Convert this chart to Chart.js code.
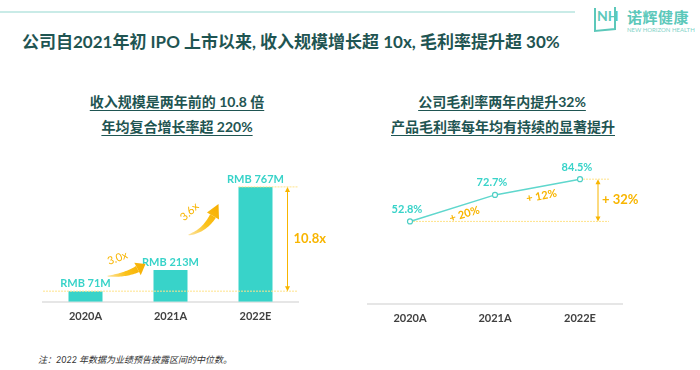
<!DOCTYPE html>
<html>
<head>
<meta charset="utf-8">
<script src="https://cdn.jsdelivr.net/npm/chart.js@4.4.0/dist/chart.umd.min.js"></script>
<style>
  body { margin: 0; background: #fff; font-family: Lato, "Noto Sans CJK SC", sans-serif; }
  #page { position: relative; width: 700px; height: 370px; overflow: hidden; }
  .topline { position: absolute; left: 0; top: 11px; width: 575px; height: 2px; background: #c9ebe7; }
  .title { position: absolute; left: 22px; top: 28px; font-size: 17px; font-weight: bold; color: #1f5552; white-space: nowrap; }
  .sub { position: absolute; font-size: 14px; font-weight: bold; color: #1f5552; white-space: nowrap; text-decoration: underline; text-underline-offset: 3px; transform: translateX(-50%); }
  .note { position: absolute; left: 38px; top: 353px; font-size: 9px; font-style: italic; color: #333; white-space: nowrap; }
  .logo-cn { position: absolute; left: 627px; top: 6px; font-size: 15px; font-weight: bold; color: #5cc8ba; letter-spacing: 0.5px; }
  .logo-en { position: absolute; left: 627px; top: 26px; font-size: 6px; color: #7fd3c8; white-space: nowrap; }
  canvas { position: absolute; }
</style>
</head>
<body>
<div id="page">
  <div class="topline"></div>
  <svg style="position:absolute;left:593px;top:4px" width="26" height="30" viewBox="0 0 26 30">
    <path d="M2 4 L2 27 L22 25 L22 3" fill="none" stroke="#5cc8ba" stroke-width="2"/>
    <text x="4" y="17" font-family="Lato, sans-serif" font-weight="bold" font-size="14" fill="#5cc8ba">NH</text>
  </svg>
  <div class="logo-cn">诺辉健康</div>
  <div class="logo-en">NEW HORIZON HEALTH</div>

  <div class="title">公司自2021年初 IPO 上市以来, 收入规模增长超 10x, 毛利率提升超 30%</div>

  <div class="sub" style="left:177px;top:91px">收入规模是两年前的 10.8 倍</div>
  <div class="sub" style="left:177px;top:116px">年均复合增长率超 220%</div>
  <div class="sub" style="left:502px;top:91px">公司毛利率两年内提升32%</div>
  <div class="sub" style="left:503px;top:116px">产品毛利率每年均有持续的显著提升</div>

  <canvas id="revenueChart" width="350" height="200" style="left:0;top:140px"></canvas>
  <canvas id="marginChart" width="350" height="200" style="left:350px;top:140px"></canvas>

  <div class="note">注：2022 年数据为业绩预告披露区间的中位数。</div>
</div>

<script>
var years = ['2020A', '2021A', '2022E'];
var revenue = [71, 213, 767];          // RMB M
var revenueLabels = ['RMB 71M', 'RMB 213M', 'RMB 767M'];
var growthLabels = ['3.0x', '3.6x'];
var totalGrowth = '10.8x';

var grossMargin = [52.8, 72.7, 84.5];  // %
var marginLabels = ['52.8%', '72.7%', '84.5%'];
var marginSteps = ['+ 20%', '+ 12%'];
var marginTotal = '+ 32%';

var FONT = 'Lato, "Noto Sans CJK SC", sans-serif';
var TEAL = '#38d3c9';
var GOLD = '#f8b500';
var PALE = '#ffe38a';

function dashLine(ctx, x1, y1, x2, y2) {
    ctx.save();
    ctx.strokeStyle = PALE;
    ctx.lineWidth = 1;
    ctx.setLineDash([2, 1]);
    ctx.beginPath();
    ctx.moveTo(x1, y1);
    ctx.lineTo(x2, y2);
    ctx.stroke();
    ctx.restore();
}

function doubleArrow(ctx, x, y1, y2) {
    ctx.save();
    ctx.strokeStyle = GOLD;
    ctx.fillStyle = GOLD;
    ctx.lineWidth = 1;
    ctx.beginPath();
    ctx.moveTo(x, y1 + 3);
    ctx.lineTo(x, y2 - 3);
    ctx.stroke();
    ctx.beginPath();
    ctx.moveTo(x, y1); ctx.lineTo(x - 2.5, y1 + 5); ctx.lineTo(x + 2.5, y1 + 5); ctx.closePath();
    ctx.fill();
    ctx.beginPath();
    ctx.moveTo(x, y2); ctx.lineTo(x - 2.5, y2 - 5); ctx.lineTo(x + 2.5, y2 - 5); ctx.closePath();
    ctx.fill();
    ctx.restore();
}

function rotatedText(ctx, text, x, y, angle, size, color, weight) {
    ctx.save();
    ctx.translate(x, y);
    ctx.rotate(angle * Math.PI / 180);
    ctx.font = (weight || 'normal') + ' ' + size + 'px ' + FONT;
    ctx.fillStyle = color;
    ctx.textAlign = 'center';
    ctx.textBaseline = 'middle';
    ctx.fillText(text, 0, 0);
    ctx.restore();
}

// tapered curved arrow along a quadratic curve
function curvedArrow(ctx, x0, y0, cx, cy, x1, y1) {
    var n = 24, left = [], right = [];
    function pt(t) {
        var a = (1 - t) * (1 - t), b = 2 * (1 - t) * t, c = t * t;
        return [a * x0 + b * cx + c * x1, a * y0 + b * cy + c * y1];
    }
    function tan(t) {
        var dx = 2 * (1 - t) * (cx - x0) + 2 * t * (x1 - cx);
        var dy = 2 * (1 - t) * (cy - y0) + 2 * t * (y1 - cy);
        var l = Math.sqrt(dx * dx + dy * dy);
        return [dx / l, dy / l];
    }
    var tEnd = 0.74;
    for (var i = 0; i <= n; i++) {
        var t = tEnd * i / n;
        var p = pt(t), d = tan(t);
        var w = 0.4 + 3.0 * Math.pow(t / tEnd, 0.8);
        left.push([p[0] - d[1] * w, p[1] + d[0] * w]);
        right.push([p[0] + d[1] * w, p[1] - d[0] * w]);
    }
    var grad = ctx.createLinearGradient(x0, y0, x1, y1);
    grad.addColorStop(0, '#fde3a0');
    grad.addColorStop(0.45, '#fbc21a');
    grad.addColorStop(1, '#f6ad00');
    ctx.save();
    ctx.fillStyle = grad;
    ctx.beginPath();
    ctx.moveTo(left[0][0], left[0][1]);
    left.forEach(function(p) { ctx.lineTo(p[0], p[1]); });
    for (var j = right.length - 1; j >= 0; j--) ctx.lineTo(right[j][0], right[j][1]);
    ctx.closePath();
    ctx.fill();
    // head
    var hb = pt(tEnd), hd = tan(tEnd);
    ctx.beginPath();
    ctx.moveTo(x1, y1);
    ctx.lineTo(hb[0] - hd[1] * 7, hb[1] + hd[0] * 7);
    ctx.lineTo(hb[0] + hd[1] * 7, hb[1] - hd[0] * 7);
    ctx.closePath();
    ctx.fill();
    ctx.restore();
}

var revenueDecor = {
    id: 'revenueDecor',
    afterDatasetsDraw: function(chart) {
        var ctx = chart.ctx;
        var bars = chart.getDatasetMeta(0).data;
        var area = chart.chartArea;

        dashLine(ctx, area.left, bars[0].y, area.right, bars[0].y);
        dashLine(ctx, bars[2].x - bars[2].width / 2, bars[2].y, area.right, bars[2].y);
        doubleArrow(ctx, bars[2].x + 32, bars[2].y, bars[0].y);

        ctx.save();
        ctx.font = 'bold 13px ' + FONT;
        ctx.fillStyle = GOLD;
        ctx.textAlign = 'left';
        ctx.textBaseline = 'middle';
        ctx.fillText(totalGrowth, bars[2].x + 38, (bars[2].y + bars[0].y) / 2);
        ctx.restore();

        ctx.save();
        ctx.font = 'bold 11px ' + FONT;
        ctx.fillStyle = TEAL;
        ctx.textAlign = 'center';
        ctx.textBaseline = 'bottom';
        bars.forEach(function(b, i) {
            ctx.fillText(revenueLabels[i], b.x, b.y - 2);
        });
        ctx.restore();

        var b0 = bars[0], b1 = bars[1], b2 = bars[2];
        curvedArrow(ctx, b0.x + 22, b0.y - 15, b0.x + 46, b0.y - 16, b1.x - 25, b1.y - 6);
        curvedArrow(ctx, b1.x + 18, b1.y - 35, b1.x + 39, b1.y - 40, b2.x - 37, b2.y + 17);
        rotatedText(ctx, growthLabels[0], b0.x + 32, b0.y - 33, -20, 11, GOLD);
        rotatedText(ctx, growthLabels[1], b1.x + 19, b1.y - 58, -43, 11, GOLD);
    }
};

var marginDecor = {
    id: 'marginDecor',
    beforeDatasetsDraw: function(chart) {
        var ctx = chart.ctx;
        var pts = chart.getDatasetMeta(0).data;
        var right = pts[2].x + 29;
        dashLine(ctx, pts[0].x, pts[0].y, right, pts[0].y);
        dashLine(ctx, pts[2].x, pts[2].y, right, pts[2].y);
    },
    afterDatasetsDraw: function(chart) {
        var ctx = chart.ctx;
        var pts = chart.getDatasetMeta(0).data;

        doubleArrow(ctx, pts[2].x + 18, pts[2].y, pts[0].y);
        ctx.save();
        ctx.font = 'bold 13px ' + FONT;
        ctx.fillStyle = GOLD;
        ctx.textAlign = 'left';
        ctx.textBaseline = 'middle';
        ctx.fillText(marginTotal, pts[2].x + 22, (pts[2].y + pts[0].y) / 2);
        ctx.restore();

        ctx.save();
        ctx.font = 'bold 11px ' + FONT;
        ctx.fillStyle = TEAL;
        ctx.textAlign = 'center';
        ctx.textBaseline = 'middle';
        pts.forEach(function(p, i) {
            ctx.fillText(marginLabels[i], p.x - 3, p.y - 12);
        });
        ctx.restore();

        for (var i = 0; i < 2; i++) {
            var a = pts[i], b = pts[i + 1];
            var ang = Math.atan2(b.y - a.y, b.x - a.x) * 180 / Math.PI;
            var mx = (a.x + b.x) / 2 + (i === 0 ? 12 : 4);
            var my = (a.y + b.y) / 2 + (i === 0 ? 6 : 9);
            rotatedText(ctx, marginSteps[i], mx, my, ang, 11, GOLD, 'bold');
        }
    }
};

var xAxis = {
    grid: { display: false, drawTicks: false },
    border: { display: true, color: '#e6e6e6', width: 2 },
    ticks: { color: '#404040', padding: 8, font: { family: FONT, size: 11, weight: 'bold' } }
};

document.addEventListener('DOMContentLoaded', function() {
    new Chart(document.getElementById('revenueChart').getContext('2d'), {
        type: 'bar',
        data: {
            labels: years,
            datasets: [{
                data: revenue,
                backgroundColor: TEAL,
                barPercentage: 0.4,
                categoryPercentage: 1
            }]
        },
        options: {
            responsive: false,
            animation: false,
            layout: { padding: { left: 43, right: 52, top: 12, bottom: 9 } },
            plugins: { legend: { display: false }, tooltip: { enabled: false } },
            scales: {
                x: xAxis,
                y: { display: false, min: 0, max: 1000 }
            }
        },
        plugins: [revenueDecor]
    });

    new Chart(document.getElementById('marginChart').getContext('2d'), {
        type: 'line',
        data: {
            labels: years,
            datasets: [{
                data: grossMargin,
                borderColor: '#5fd7cd',
                borderWidth: 1.5,
                pointRadius: 2.5,
                pointBorderWidth: 1.2,
                pointBackgroundColor: '#fff',
                pointBorderColor: '#4fcfc5',
                tension: 0
            }]
        },
        options: {
            responsive: false,
            animation: false,
            layout: { padding: { left: 17.5, right: 77.5, top: 18.5, bottom: 7 } },
            plugins: { legend: { display: false }, tooltip: { enabled: false } },
            scales: {
                x: Object.assign({ offset: true }, xAxis),
                y: { display: false, min: -9, max: 100 }
            }
        },
        plugins: [marginDecor]
    });
});
</script>
</body>
</html>
